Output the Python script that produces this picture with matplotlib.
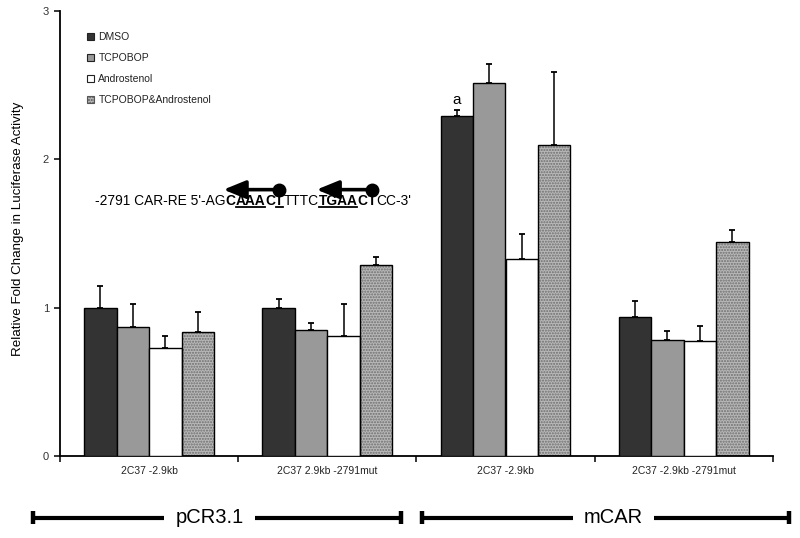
import matplotlib
matplotlib.use('Agg')
import matplotlib.pyplot as plt
import numpy as np
from matplotlib.patches import Patch

plt.rcParams['font.family'] = ['Liberation Sans', 'DejaVu Sans']

# data
constructs = ['2C37 -2.9kb', '2C37 2.9kb -2791mut', '2C37 -2.9kb', '2C37 -2.9kb -2791mut']
treatments = ['DMSO', 'TCPOBOP', 'Androstenol', 'TCPOBOP&Androstenol']
means = np.array([[1.00, 0.87, 0.73, 0.84],
                  [1.00, 0.855, 0.81, 1.29],
                  [2.29, 2.515, 1.33, 2.095],
                  [0.94, 0.785, 0.78, 1.445]])
errs = np.array([[0.15, 0.16, 0.08, 0.13],
                 [0.06, 0.045, 0.215, 0.05],
                 [0.045, 0.125, 0.165, 0.495],
                 [0.11, 0.06, 0.10, 0.08]])
bracket_labels = ['pCR3.1', 'mCAR']
bracket_spans = [(-0.652, 1.412), (1.529, 3.589)]
bracket_label_x = [0.34, 2.605]
yticks = [0, 1, 2, 3]

colors = ['#333333', '#999999', 'white', '#b8b8b8']
hatches = [None, None, None, '......']

fig = plt.figure(figsize=(8, 5.38), dpi=100)
ax = fig.add_axes([0.075, 0.1515, 0.891, 0.8281])

x = np.arange(len(constructs))
w = 0.182
for i in range(len(treatments)):
    pos = x + (i - 1.5) * w
    if hatches[i]:
        ax.bar(pos, means[:, i], w, color=colors[i], hatch=hatches[i],
               edgecolor='#6e6e6e', linewidth=0, zorder=2)
        ax.bar(pos, means[:, i], w, fill=False, edgecolor='black', linewidth=1, zorder=3)
    else:
        ax.bar(pos, means[:, i], w, color=colors[i], edgecolor='black', linewidth=1, zorder=3)
    ax.errorbar(pos, means[:, i], yerr=[np.zeros(len(x)), errs[:, i]], fmt='none',
                ecolor='black', elinewidth=1.1, capsize=2.2, capthick=1.3, zorder=1)

ax.set_xlim(-0.5, 3.5)
ax.set_ylim(0, 3)
ax.set_yticks(yticks)
ax.tick_params(axis='y', direction='out', length=4, width=1.1, labelsize=8,
               labelcolor='#333333', pad=4)
ax.set_xticks(np.arange(-0.5, 4, 1))
ax.set_xticklabels([])
ax.set_xticks(x, minor=True)
ax.set_xticklabels(constructs, minor=True, fontsize=7.5, color='#222222')
ax.tick_params(axis='x', which='major', direction='out', length=4, width=1.1)
ax.tick_params(axis='x', which='minor', length=0, pad=7)
for s in ['top', 'right']:
    ax.spines[s].set_visible(False)
for s in ['left', 'bottom']:
    ax.spines[s].set_linewidth(1.3)
ax.set_ylabel('Relative Fold Change in Luciferase Activity', fontsize=9.6)
ax.yaxis.set_label_coords(-0.05, 0.51)

handles = [Patch(facecolor=colors[i], edgecolor='#222222' if i < 3 else '#555555',
                 hatch=hatches[i], linewidth=0.8) for i in range(4)]
ax.legend(handles, treatments, loc='upper left', bbox_to_anchor=(0.032, 0.962),
          frameon=False, fontsize=7.5, handlelength=0.7, handleheight=0.7,
          handletextpad=0.4, labelspacing=1.05, borderaxespad=0, labelcolor='#222222')

ax.text(2 - 1.5 * w, means[2, 0] + errs[2, 0] + 0.02, 'a', ha='center', va='bottom', fontsize=11)

# sequence annotation
segs = [("-2791 CAR-RE 5'-AG", 'normal', False), ('C', 'bold', False), ('AAA', 'bold', True),
        ('C', 'bold', False), ('T', 'bold', True), ('TTTC', 'normal', False),
        ('TGAA', 'bold', True), ('C', 'bold', False), ('T', 'bold', False), ("CC-3'", 'normal', False)]
texts = []
prev = ax.text(0.049, 0.557, segs[0][0], transform=ax.transAxes, fontsize=9.9,
               fontweight=segs[0][1], va='bottom', ha='left')
texts.append(prev)
for s, wt, ul in segs[1:]:
    prev = ax.annotate(s, xy=(1, 0), xycoords=prev, va='bottom', ha='left',
                       fontsize=9.9, fontweight=wt)
    texts.append(prev)

fig.canvas.draw()
r = fig.canvas.get_renderer()
inv = ax.transAxes.inverted()
boxes = [t.get_window_extent(r) for t in texts]
base = boxes[0].y0 + 2.7
for b, (s, wt, ul) in zip(boxes, segs):
    if ul:
        p0 = inv.transform((b.x0 + 0.5, base - 1.7))
        p1 = inv.transform((b.x1 - 0.5, base - 1.7))
        ax.plot([p0[0], p1[0]], [p0[1], p1[1]], color='black', lw=1.3,
                transform=ax.transAxes, clip_on=False)

ay = base + 16
for tip_i, tail_i in [(1, 4), (6, 8)]:
    tip = inv.transform((boxes[tip_i].x0 - 2, ay))
    tb = boxes[tail_i]
    tail = inv.transform(((tb.x0 + tb.x1) / 2, ay))
    ax.annotate('', xy=tip, xytext=tail, xycoords='axes fraction',
                arrowprops=dict(arrowstyle='-|>,head_length=1.35,head_width=0.55',
                                lw=2.6, color='black', shrinkA=0, shrinkB=0,
                                mutation_scale=10))
    ax.plot([tail[0]], [tail[1]], 'o', color='black', markersize=9,
            transform=ax.transAxes, clip_on=False)

# construct brackets below the axis
tr = matplotlib.transforms.blended_transform_factory(ax.transData, fig.transFigure)
yl = 0.0372
for lab, (x0, x1), lx in zip(bracket_labels, bracket_spans, bracket_label_x):
    ax.plot([x0, x1], [yl, yl], color='black', lw=3, transform=tr, clip_on=False,
            solid_capstyle='butt')
    for xe in (x0, x1):
        ax.plot([xe, xe], [0.026, 0.0495], color='black', lw=3.2, transform=tr,
                clip_on=False, solid_capstyle='butt')
    ax.text(lx, yl, lab, transform=tr, ha='center', va='center', fontsize=14.5,
            bbox=dict(facecolor='white', edgecolor='none', boxstyle='square,pad=0.55'))

fig.savefig('out.png', dpi=100)
